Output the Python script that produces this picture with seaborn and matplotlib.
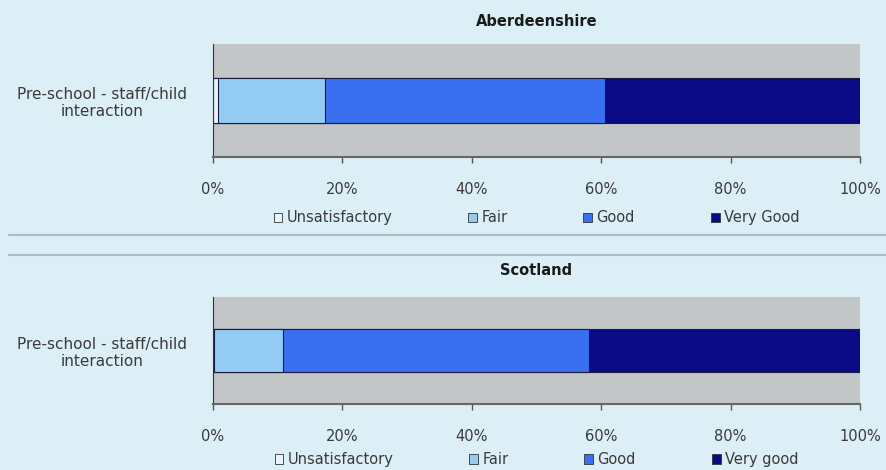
import numpy as np
import pandas as pd
import seaborn as sns
import matplotlib.pyplot as plt
from matplotlib.patches import Patch
from matplotlib.lines import Line2D
from matplotlib.ticker import PercentFormatter

# data (percent of provision)
category = ['Pre-school - staff/child\ninteraction']
bands_abdn = ['Unsatisfactory', 'Fair', 'Good', 'Very Good']
bands_scot = ['Unsatisfactory', 'Fair', 'Good', 'Very good']
abdn = [0.8, 16.5, 43.3, 39.4]
scot = [0.2, 10.6, 47.3, 41.9]
ticks = [0, 20, 40, 60, 80, 100]

colors = ['#eaf3fa', '#93cbf2', '#3a6ff0', '#0a0a86']
bg = '#dceef6'

sns.set_style('white')
plt.rcParams['font.family'] = ['DejaVu Sans']

fig = plt.figure(figsize=(8.86, 4.70), dpi=100)
fig.patch.set_facecolor(bg)

ax1 = fig.add_axes([0.2404, 0.6660, 0.7303, 0.2404])
ax2 = fig.add_axes([0.2404, 0.1404, 0.7303, 0.2277])


def draw(ax, vals, bands, title, tpad, legy):
    df = pd.DataFrame({'band': bands, 'value': vals})
    df['cum'] = df['value'].cumsum()
    # stacked bars by overlaying cumulative totals, widest first
    for i in range(len(df) - 1, -1, -1):
        sns.barplot(x=[df['cum'][i]], y=category, orient='h', color=colors[i],
                    edgecolor='#1a1a40', linewidth=0.8, width=0.4, ax=ax,
                    saturation=1)
    ax.set_facecolor('#c3c6c7')
    ax.set_xlim(0, 100)
    ax.set_ylim(0.5, -0.5)
    ax.set_xticks(ticks)
    ax.xaxis.set_major_formatter(PercentFormatter(decimals=0))
    ax.tick_params(axis='x', length=4, width=1, color='#555555', labelsize=10.5,
                   labelcolor='#3a3a3a', pad=14, direction='out', bottom=True)
    ax.tick_params(axis='y', length=0, labelsize=11, labelcolor='#3a3a3a', pad=8)
    for lbl in ax.get_yticklabels():
        lbl.set_horizontalalignment('center')
        lbl.set_x(-0.155)
    ax.set_xlabel('')
    ax.set_ylabel('')
    for s in ['top', 'right']:
        ax.spines[s].set_visible(False)
    ax.spines['left'].set_color('#333333')
    ax.spines['bottom'].set_color('#666666')
    ax.spines['bottom'].set_linewidth(1.5)
    ax.set_title(title, fontsize=10.5, fontweight='bold', color='#1a1a1a', pad=tpad)
    handles = [Patch(facecolor=c, edgecolor='#333333', linewidth=0.6) for c in colors]
    ax.legend(handles, bands, loc='center', bbox_to_anchor=(0.5, legy),
              ncol=4, frameon=False, fontsize=10.5, handlelength=0.6,
              handleheight=0.6, handletextpad=0.3, columnspacing=5.2,
              labelcolor='#3a3a3a')


draw(ax1, abdn, bands_abdn, 'Aberdeenshire', 13, -0.54)
draw(ax2, scot, bands_scot, 'Scotland', 16, -0.52)

# separator lines between the two panels
for yy in [1 - 235 / 470, 1 - 255 / 470]:
    fig.add_artist(Line2D([0.01, 1.0], [yy, yy], color='#a9bcc6', lw=1.5))

fig.savefig('out.png', dpi=100, facecolor=bg)
